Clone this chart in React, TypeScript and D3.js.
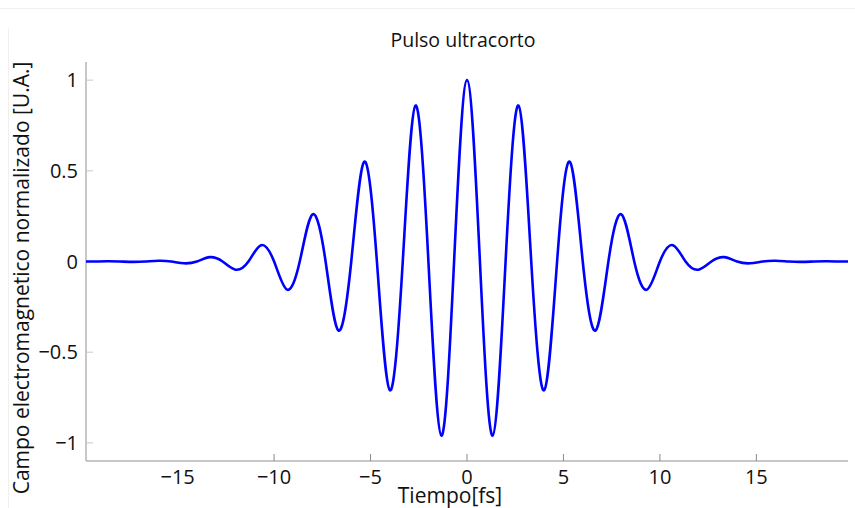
import React, { useEffect, useRef } from 'react';
import * as d3 from 'd3';

// pulse: extrema every ~1.33 fs, zero crossings in between
const tiempo = [
  -19.75, -19.33, -18.67, -18.0, -17.33, -16.67, -16.0, -15.33, -14.67, -14.0,
  -13.33, -12.67, -12.0, -11.33, -10.67, -10.0, -9.33, -8.67, -8.0, -7.33,
  -6.67, -6.0, -5.33, -4.67, -4.0, -3.33, -2.67, -2.0, -1.33, -0.67,
  0,
  0.67, 1.33, 2.0, 2.67, 3.33, 4.0, 4.67, 5.33, 6.0, 6.67,
  7.33, 8.0, 8.67, 9.33, 10.0, 10.67, 11.33, 12.0, 12.67, 13.33,
  14.0, 14.67, 15.33, 16.0, 16.67, 17.33, 18.0, 18.67, 19.33, 19.75,
];
const campo = [
  0, 0, 0.001, 0, -0.002, 0, 0.004, 0, -0.01, 0,
  0.024, 0, -0.045, 0, 0.09, 0, -0.155, 0, 0.26, 0,
  -0.38, 0, 0.55, 0, -0.71, 0, 0.86, 0, -0.96, 0,
  1,
  0, -0.96, 0, 0.86, 0, -0.71, 0, 0.55, 0, -0.38,
  0, 0.26, 0, -0.155, 0, 0.09, 0, -0.045, 0, 0.024,
  0, -0.01, 0, 0.004, 0, -0.002, 0, 0.001, 0, 0,
];

const xTicks = [-15, -10, -5, 0, 5, 10, 15];
const yTicks = [-1, -0.5, 0, 0.5, 1];

const W = 855, H = 508;
const FONT = '"Open Sans", sans-serif';

export default function App() {
  const ref = useRef<SVGSVGElement>(null);

  useEffect(() => {
    const svg = d3.select(ref.current);
    svg.selectAll('*').remove();

    const x = d3.scaleLinear().domain([-19.75, 19.75]).range([86, 848]);
    const y = d3.scaleLinear().domain([-1.1, 1.1]).range([461, 62]);

    // faint frame of the screenshot
    svg.append('line').attr('x1', 0).attr('x2', W).attr('y1', 8.5).attr('y2', 8.5)
      .attr('stroke', '#f0f0f0');
    svg.append('line').attr('x1', 8.5).attr('x2', 8.5).attr('y1', 28).attr('y2', H)
      .attr('stroke', '#f0f0f0');

    // x axis
    const xAxis = svg.append('g').attr('transform', `translate(0,${y(-1.1)})`);
    xAxis.append('line').attr('x1', x(-19.75)).attr('x2', x(19.75))
      .attr('stroke', '#b4b4b4').attr('stroke-width', 1.5);
    xAxis.selectAll('line.tick').data(xTicks.filter(d => d !== -15)).join('line')
      .attr('class', 'tick')
      .attr('x1', d => x(d)).attr('x2', d => x(d))
      .attr('y1', 0).attr('y2', -7)
      .attr('stroke', '#8a8a8a');
    xAxis.selectAll('text').data(xTicks).join('text')
      .attr('x', d => x(d)).attr('y', 23)
      .attr('text-anchor', 'middle')
      .style('font-family', FONT).style('font-size', '20px').attr('fill', '#111')
      .text(d => d3.format('')(d).replace('-', '\u2212'));

    // y axis
    const yAxis = svg.append('g').attr('transform', `translate(${x(-19.75)},0)`);
    yAxis.append('line').attr('y1', y(1.1)).attr('y2', y(-1.1))
      .attr('stroke', '#b4b4b4').attr('stroke-width', 1.5);
    yAxis.selectAll('line.tick').data(yTicks).join('line')
      .attr('class', 'tick')
      .attr('y1', d => y(d)).attr('y2', d => y(d))
      .attr('x1', 0).attr('x2', 7)
      .attr('stroke', '#c8c8c8');
    yAxis.selectAll('text').data(yTicks).join('text')
      .attr('x', -8).attr('y', d => y(d) + 7)
      .attr('text-anchor', 'end')
      .style('font-family', FONT).style('font-size', '20px').attr('fill', '#111')
      .text(d => d3.format('')(d).replace('-', '\u2212'));

    // the pulse
    const line = d3.line<number>()
      .x((_, i) => x(tiempo[i]))
      .y(d => y(d))
      .curve(d3.curveNatural);
    svg.append('path')
      .attr('d', line(campo))
      .attr('fill', 'none')
      .attr('stroke', '#0000ff')
      .attr('stroke-width', 2.6);

    // labels
    svg.append('text').attr('x', 463).attr('y', 47).attr('text-anchor', 'middle')
      .style('font-family', FONT).style('font-size', '19.5px').attr('fill', '#111')
      .text('Pulso ultracorto');
    svg.append('text').attr('x', 450).attr('y', 503).attr('text-anchor', 'middle')
      .style('font-family', FONT).style('font-size', '21px').attr('fill', '#111')
      .text('Tiempo[fs]');
    svg.append('text')
      .attr('transform', 'translate(29,278) rotate(-90)')
      .attr('text-anchor', 'middle')
      .style('font-family', FONT).style('font-size', '21px').attr('fill', '#111')
      .text('Campo electromagnetico normalizado [U.A.]');
  }, []);

  return (
    <svg ref={ref} width={W} height={H}
      style={{ position: 'absolute', left: 0, top: 0, background: '#fff' }} />
  );
}
